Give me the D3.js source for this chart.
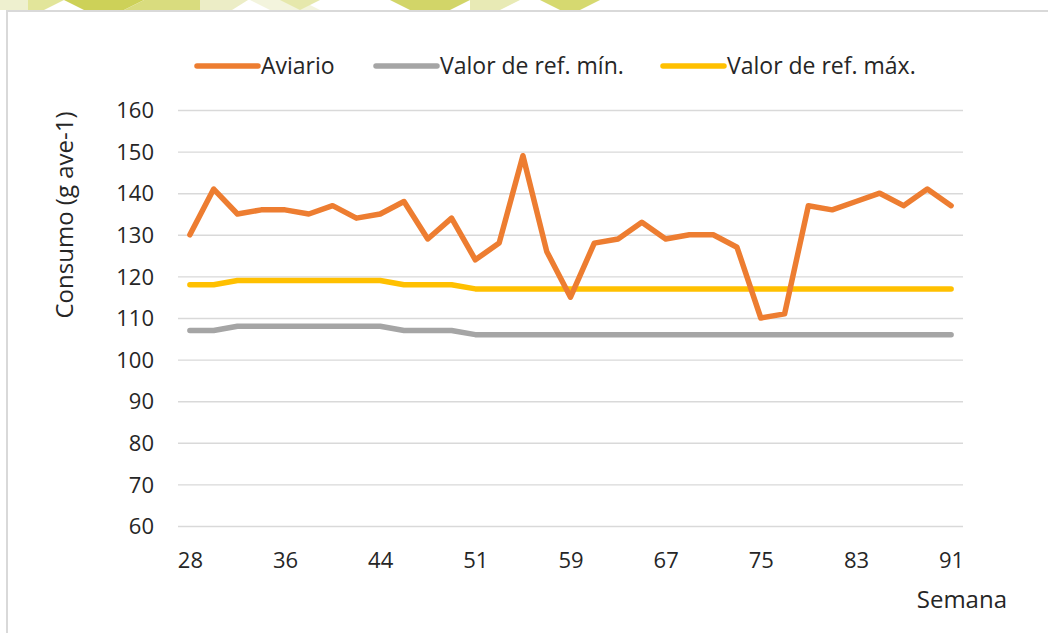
<!DOCTYPE html>
<html>
<head>
<meta charset="utf-8">
<script src="https://cdn.jsdelivr.net/npm/d3@7"></script>
<style>
  html, body { margin: 0; padding: 0; background: #fff; }
  svg { display: block; }
  text { font-family: "Open Sans", "DejaVu Sans", sans-serif; fill: #262626; }
</style>
</head>
<body>
<svg id="chart" width="1048" height="633"></svg>
<script>
const weeks = [28,30,32,34,36,38,40,42,44,46,48,50,51,53,55,57,59,61,63,65,67,69,71,73,75,77,79,81,83,85,87,89,91];
const aviario = [130,141,135,136,136,135,137,134,135,138,129,134,124,128,149,126,115,128,129,133,129,130,130,127,110,111,137,136,138,140,137,141,137];
const refMin = [107,107,108,108,108,108,108,108,108,107,107,107,106,106,106,106,106,106,106,106,106,106,106,106,106,106,106,106,106,106,106,106,106];
const refMax = [118,118,119,119,119,119,119,119,119,118,118,118,117,117,117,117,117,117,117,117,117,117,117,117,117,117,117,117,117,117,117,117,117];
const yTicks = [60,70,80,90,100,110,120,130,140,150,160];
const seriesNames = ["Aviario", "Valor de ref. mín.", "Valor de ref. máx."];
const seriesColors = ["#ED7D31", "#A5A5A5", "#FFC000"];

const svg = d3.select("#chart");

// decorative top band
const deco = svg.append("g");
const decoShapes = [
  {pts:[[0,0],[28,0],[28,10],[0,10]], c:"#eef0cf"},
  {pts:[[28,0],[64,0],[44,10],[28,10]], c:"#e2e59a"},
  {pts:[[64,0],[144,0],[124,10],[84,10]], c:"#cdd158"},
  {pts:[[144,0],[200,0],[200,10],[124,10]], c:"#d9dc7e"},
  {pts:[[200,0],[248,0],[232,10],[200,10]], c:"#ecedc6"},
  {pts:[[250,0],[300,0],[320,10],[270,10]], c:"#f3f4dd"},
  {pts:[[280,0],[320,0],[300,10]], c:"#e6e8ac"},
  {pts:[[390,0],[470,0],[450,10],[410,10]], c:"#d2d568"},
  {pts:[[470,0],[520,0],[500,10],[470,10]], c:"#e8eab5"},
  {pts:[[540,0],[600,0],[580,10],[560,10]], c:"#d6d970"},
];
decoShapes.forEach(s => deco.append("polygon").attr("points", s.pts.map(p=>p.join(",")).join(" ")).attr("fill", s.c));
svg.append("rect").attr("x", 0).attr("y", 10).attr("width", 1048).attr("height", 623).attr("fill", "#fff");

// border
svg.append("path").attr("d", "M7,640 L7,11 L1060,11").attr("fill", "none").attr("stroke", "#d9d9d9").attr("stroke-width", 2);

const pL = 178, pR = 963, pT = 110, pB = 526;

const x = d3.scalePoint().domain(weeks).range([pL, pR]).padding(0.5);
const y = d3.scaleLinear().domain([60, 160]).range([pB, pT]);

// gridlines + y axis
const yAxis = d3.axisLeft(y).tickValues(yTicks).tickSize(-(pR - pL)).tickPadding(24);
const gy = svg.append("g").attr("transform", `translate(${pL},0)`).call(yAxis);
gy.select(".domain").remove();
gy.selectAll(".tick line").attr("stroke", "#d9d9d9").attr("stroke-width", 1.4);
gy.selectAll(".tick text").style("font-size", "22px").attr("fill", "#262626").attr("dy", "0.35em");

// x axis
const xTickVals = weeks.filter((d, i) => i % 4 === 0);
const xAxis = d3.axisBottom(x).tickValues(xTickVals).tickSize(0).tickPadding(26);
const gx = svg.append("g").attr("transform", `translate(0,${pB})`).call(xAxis);
gx.select(".domain").remove();
gx.selectAll(".tick text").style("font-size", "22px").attr("fill", "#262626");

// lines
const series = [aviario, refMin, refMax];
const line = d3.line().x((d, i) => x(weeks[i])).y(d => y(d));
[1, 2, 0].forEach(k => {
  svg.append("path").datum(series[k]).attr("d", line)
    .attr("fill", "none").attr("stroke", seriesColors[k]).attr("stroke-width", 5.5)
    .attr("stroke-linejoin", "round").attr("stroke-linecap", "round");
});

// axis titles
svg.append("text").attr("transform", `translate(73,215) rotate(-90)`).attr("text-anchor", "middle")
  .style("font-size", "24px").text("Consumo (g ave-1)");
svg.append("text").attr("x", 1007).attr("y", 608).attr("text-anchor", "end")
  .style("font-size", "24px").text("Semana");

// legend
const legX = [197, 376, 663];
const lg = svg.append("g");
seriesNames.forEach((n, i) => {
  lg.append("line").attr("x1", legX[i]).attr("x2", legX[i] + 61).attr("y1", 66).attr("y2", 66)
    .attr("stroke", seriesColors[i]).attr("stroke-width", 5.5).attr("stroke-linecap", "round");
  lg.append("text").attr("x", legX[i] + 64).attr("y", 74).style("font-size", "23px").text(n);
});
</script>
</body>
</html>
